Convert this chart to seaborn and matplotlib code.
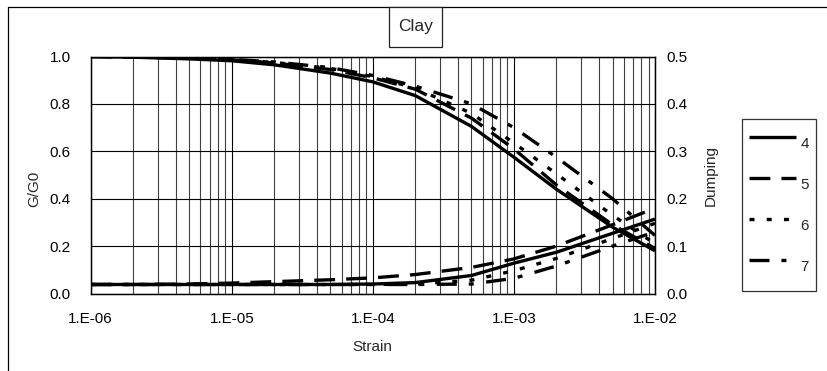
import numpy as np
import pandas as pd
import matplotlib
matplotlib.use("Agg")
import matplotlib.pyplot as plt
from matplotlib.patches import Rectangle
from matplotlib.lines import Line2D
from matplotlib.ticker import FixedLocator, LogLocator, NullFormatter
import seaborn as sns

# ---------------- data ----------------
strain = [1e-6, 2e-6, 5e-6, 1e-5, 2e-5, 5e-5, 1e-4, 2e-4, 5e-4, 1e-3, 2e-3, 5e-3, 1e-2]
curve_names = ["4", "5", "6", "7"]

g4 = [1.000, 0.997, 0.990, 0.982, 0.965, 0.930, 0.893, 0.835, 0.705, 0.575, 0.440, 0.280, 0.180]
g5 = [1.000, 0.998, 0.993, 0.986, 0.973, 0.945, 0.910, 0.862, 0.740, 0.610, 0.458, 0.290, 0.190]
g6 = [1.000, 0.998, 0.994, 0.987, 0.975, 0.950, 0.915, 0.867, 0.760, 0.635, 0.505, 0.330, 0.210]
g7 = [1.000, 0.998, 0.995, 0.988, 0.977, 0.953, 0.920, 0.875, 0.800, 0.700, 0.575, 0.400, 0.245]

d4 = [0.019, 0.019, 0.019, 0.019, 0.019, 0.019, 0.020, 0.023, 0.038, 0.064, 0.087, 0.127, 0.157]
d5 = [0.019, 0.019, 0.020, 0.022, 0.025, 0.029, 0.033, 0.040, 0.055, 0.073, 0.100, 0.145, 0.180]
d6 = [0.019, 0.019, 0.019, 0.019, 0.019, 0.019, 0.019, 0.020, 0.028, 0.048, 0.074, 0.116, 0.148]
d7 = [0.019, 0.019, 0.019, 0.019, 0.019, 0.019, 0.019, 0.019, 0.020, 0.032, 0.058, 0.100, 0.130]

x_ticks = [1e-6, 1e-5, 1e-4, 1e-3, 1e-2]
x_ticklabels = ["1.E-06", "1.E-05", "1.E-04", "1.E-03", "1.E-02"]
g_ticks = [0.0, 0.2, 0.4, 0.6, 0.8, 1.0]
d_ticks = [0.0, 0.1, 0.2, 0.3, 0.4, 0.5]

title = "Clay"
xlabel = "Strain"
ylabel_left = "G/G0"
ylabel_right = "Dumping"

# ---------------- tables ----------------
G = {"4": g4, "5": g5, "6": g6, "7": g7}
D = {"4": d4, "5": d5, "6": d6, "7": d7}
df_g = pd.concat([pd.DataFrame({"strain": strain, "val": G[k], "curve": k}) for k in curve_names],
                 ignore_index=True)
df_d = pd.concat([pd.DataFrame({"strain": strain, "val": D[k], "curve": k}) for k in curve_names],
                 ignore_index=True)

# ---------------- style ----------------
sns.set_theme(style="white")
plt.rcParams["font.family"] = ["Liberation Sans", "DejaVu Sans"]
plt.rcParams["lines.scale_dashes"] = False
FS = 11

dash_map = {"4": "", "5": (15, 8), "6": (3.6, 8.8), "7": (14.4, 8.6, 3.6, 9.0)}
pal = {k: "black" for k in curve_names}
LW = 2.4

W, H = 827, 371
fig = plt.figure(figsize=(W / 100, H / 100), dpi=100)
fig.patch.set_facecolor("white")

L, R, T, B = 90.7, 655.0, 56.5, 293.5
ax = fig.add_axes([L / W, 1 - B / H, (R - L) / W, (B - T) / H])
ax2 = ax.twinx()

sns.lineplot(data=df_g, x="strain", y="val", hue="curve", style="curve",
             palette=pal, dashes=dash_map, linewidth=LW, estimator=None,
             sort=True, legend=False, ax=ax)
sns.lineplot(data=df_d, x="strain", y="val", hue="curve", style="curve",
             palette=pal, dashes=dash_map, linewidth=LW, estimator=None,
             sort=True, legend=False, ax=ax2)

for a in (ax, ax2):
    a.set_xscale("log")
    a.set_xlim(1e-6, 1e-2)
    for ln in a.get_lines():
        ln.set_solid_capstyle("butt")
        ln.set_dash_capstyle("butt")

ax.set_ylim(0, 1.0)
ax2.set_ylim(0, 0.5)

# ticks
ax.xaxis.set_major_locator(FixedLocator(x_ticks))
ax.set_xticklabels(x_ticklabels)
ax.xaxis.set_minor_locator(LogLocator(base=10, subs=np.arange(2, 10)))
ax.xaxis.set_minor_formatter(NullFormatter())
ax.set_yticks(g_ticks)
ax.set_yticklabels([f"{v:.1f}" for v in g_ticks])
ax2.set_yticks(d_ticks)
ax2.set_yticklabels([f"{v:.1f}" for v in d_ticks])

ax.tick_params(axis="x", which="both", length=0, pad=13, labelsize=FS, colors="black")
ax.tick_params(axis="y", length=0, pad=14.5, labelsize=FS, colors="black")
ax2.tick_params(axis="y", length=0, pad=8, labelsize=FS, colors="black")

# grid
ax.grid(True, which="major", axis="both", color="black", linewidth=0.8)
ax.grid(True, which="minor", axis="x", color="#404040", linewidth=0.8)
ax.set_axisbelow(True)
ax2.grid(False)

for a in (ax, ax2):
    for s in a.spines.values():
        s.set_color("black")
        s.set_linewidth(0.9)

# labels
ax.set_xlabel(xlabel, fontsize=FS)
ax.set_ylabel(ylabel_left, fontsize=FS)
ax2.set_ylabel(ylabel_right, fontsize=FS, rotation=90)
ax.xaxis.label.set(ha="center", va="center")
ax.yaxis.label.set(ha="center", va="center", rotation_mode="default")
ax2.yaxis.label.set(ha="center", va="center", rotation_mode="default")
ax.xaxis.set_label_coords((372 - L) / (R - L), (B - 347) / (B - T))
ax.yaxis.set_label_coords((34 - L) / (R - L), (B - 189) / (B - T))
ax2.yaxis.set_label_coords((711 - L) / (R - L), (B - 175.5) / (B - T))

# legend
handles = []
for k in curve_names:
    h = Line2D([], [], color="black", linewidth=LW,
               linestyle="-" if dash_map[k] == "" else "--")
    if dash_map[k] != "":
        h.set_dashes(dash_map[k])
    h.set_dash_capstyle("butt")
    h.set_solid_capstyle("butt")
    handles.append(h)
leg = fig.legend(handles, curve_names, loc="upper left",
                 bbox_to_anchor=(742 / W, 1 - 119 / H),
                 frameon=True, fancybox=False, shadow=False, framealpha=1,
                 edgecolor="#333333", fontsize=FS, handlelength=3.07,
                 handleheight=3.2, labelspacing=0.35, handletextpad=0.3,
                 borderpad=0.45, borderaxespad=0)
leg.get_frame().set_linewidth(0.9)

# title box
fig.patches.append(Rectangle((389 / W, 1 - 47 / H), 53 / W, 40 / H,
                             transform=fig.transFigure, facecolor="white",
                             edgecolor="#222222", linewidth=0.9, zorder=5))
fig.text(415.5 / W, 1 - 26.5 / H, title, ha="center", va="center", fontsize=12.5, zorder=6)

# outer chart frame (left and top edges visible)
fig.add_artist(Line2D([8 / W, 8 / W], [0, 1 - 7 / H], transform=fig.transFigure,
                      color="black", linewidth=0.9))
fig.add_artist(Line2D([8 / W, 1], [1 - 7 / H, 1 - 7 / H], transform=fig.transFigure,
                      color="black", linewidth=0.9))

fig.savefig("out.png", dpi=100, facecolor="white")
